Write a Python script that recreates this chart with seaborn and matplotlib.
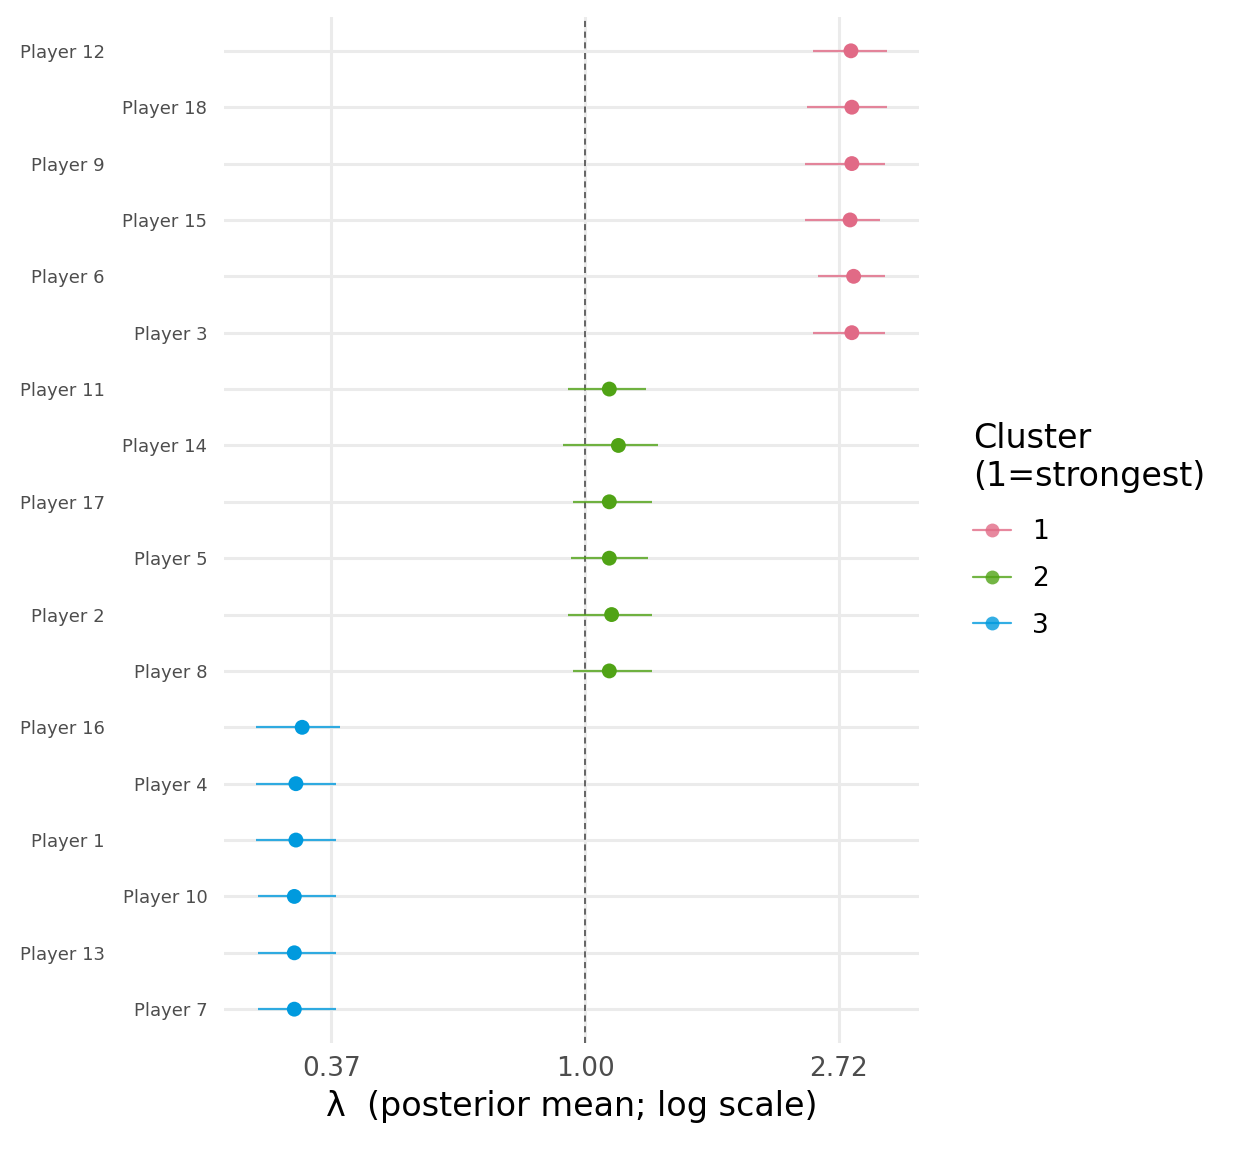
# Forest plot of posterior lambda per player, coloured by cluster.
# Log x-scale, staggered player labels, ggplot-minimal look.

import numpy as np
import pandas as pd
import matplotlib
matplotlib.use("Agg")
import matplotlib.pyplot as plt
from matplotlib.lines import Line2D
import seaborn as sns

# ###########################################################
# Data (top row first).
players = ["Player 12", "Player 18", "Player 9", "Player 15", "Player 6", "Player 3",
           "Player 11", "Player 14", "Player 17", "Player 5", "Player 2", "Player 8",
           "Player 16", "Player 4", "Player 1", "Player 10", "Player 13", "Player 7"]
cluster = ["1", "1", "1", "1", "1", "1",
           "2", "2", "2", "2", "2", "2",
           "3", "3", "3", "3", "3", "3"]
lam_mean = [2.85, 2.86, 2.86, 2.84, 2.88, 2.86,
            1.10, 1.14, 1.10, 1.10, 1.11, 1.10,
            0.328, 0.320, 0.320, 0.318, 0.318, 0.318]
lam_lo = [2.45, 2.40, 2.38, 2.38, 2.50, 2.45,
          0.935, 0.917, 0.955, 0.945, 0.935, 0.955,
          0.273, 0.273, 0.273, 0.276, 0.276, 0.276]
lam_hi = [3.29, 3.29, 3.26, 3.19, 3.26, 3.26,
          1.27, 1.33, 1.30, 1.28, 1.30, 1.30,
          0.381, 0.375, 0.375, 0.375, 0.375, 0.375]

x_ticks = [np.exp(-1), 1.0, np.exp(1)]
x_tick_labels = ["0.37", "1.00", "2.72"]

palette = {"1": "#E16A86", "2": "#50A315", "3": "#009ADE"}

df = pd.DataFrame({"player": players, "cluster": cluster,
                   "mean": lam_mean, "lo": lam_lo, "hi": lam_hi})
df["pos"] = np.arange(len(df))

# ###########################################################
sns.set_theme(style="white")
plt.rcParams['font.family'] = ['DejaVu Sans']
plt.rcParams['text.color'] = 'black'
plt.rcParams['axes.labelcolor'] = 'black'

fig = plt.figure(figsize=(12.48, 11.52), dpi=100)
ax = fig.add_axes([224 / 1248, 1 - 1043 / 1152, (919 - 224) / 1248, (1043 - 17) / 1152])

ax.set_xscale("log")

# Interval lines first, then the points on top.
for c, sub in df.groupby("cluster"):
    ax.hlines(sub["pos"], sub["lo"], sub["hi"], color=palette[c], lw=1.6, alpha=0.8, zorder=3)

sns.scatterplot(data=df, x="mean", y="pos", hue="cluster", palette=palette,
                s=115, edgecolor="none", legend=False, ax=ax, zorder=4)

ax.axvline(1.0, color="#404040", lw=1.1, ls=(0, (4, 3)), zorder=2)

# ggplot-like 5% expansion on the log scale
lo_l, hi_l = np.log(min(lam_lo)), np.log(max(lam_hi))
pad = 0.05 * (hi_l - lo_l)
ax.set_xlim(np.exp(lo_l - pad), np.exp(hi_l + pad))
ax.set_ylim(len(df) - 1 + 0.6, -0.6)

ax.set_xticks(x_ticks)
ax.set_xticklabels(x_tick_labels)
ax.xaxis.set_minor_locator(matplotlib.ticker.NullLocator())
ax.set_yticks(df["pos"])
ax.set_yticklabels(players)

ax.grid(True, which="major", color="#EBEBEB", lw=2.2, zorder=0)
ax.set_axisbelow(True)
for s in ax.spines.values():
    s.set_visible(False)

ax.tick_params(axis="x", length=0, pad=9, labelsize=19, labelcolor="#4D4D4D")
ax.tick_params(axis="y", length=0, labelsize=13, labelcolor="#4D4D4D")

# Staggered y labels (two rows of labels)
for i, tick in enumerate(ax.yaxis.get_major_ticks()):
    tick.set_pad(12 if i % 2 else 86)

ax.set_xlabel("λ  (posterior mean; log scale)", fontsize=24, labelpad=6, color="black")
ax.set_ylabel("")

# Legend
handles = [Line2D([0], [0], color=palette[k], lw=1.6, alpha=0.8, marker="o",
                  markersize=10, markerfacecolor=palette[k], markeredgecolor="none")
           for k in ["1", "2", "3"]]
leg = fig.legend(handles, ["1", "2", "3"], title="Cluster\n(1=strongest)",
                 loc="upper left", bbox_to_anchor=(949 / 1248, 1 - 398 / 1152),
                 frameon=False, fontsize=19, title_fontsize=24, handlelength=1.45,
                 labelspacing=0.78, handletextpad=0.8, alignment="left")
leg._legend_box.sep = 19

fig.savefig("out.png", dpi=100)
